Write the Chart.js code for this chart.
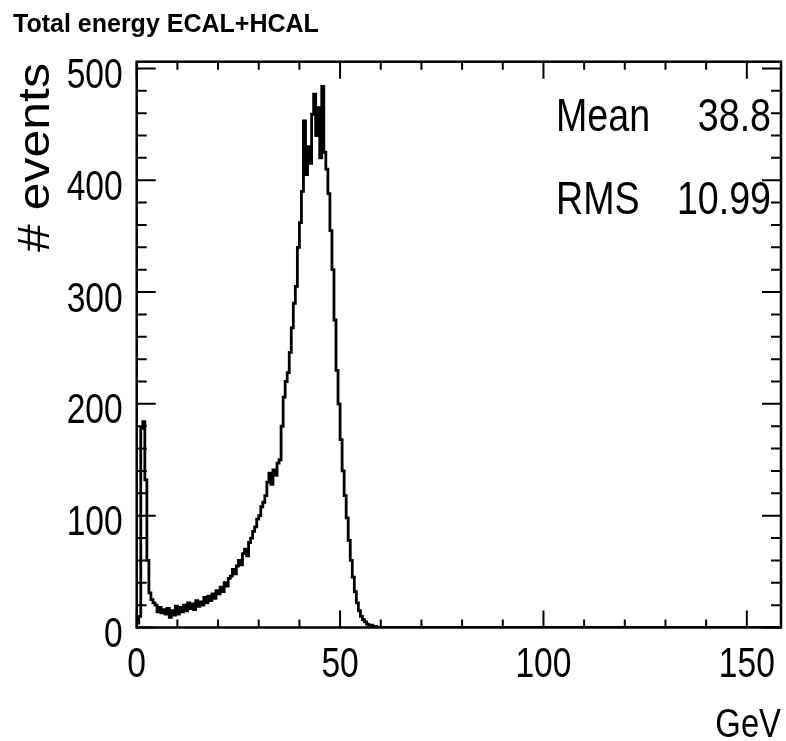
<!DOCTYPE html>
<html>
<head>
<meta charset="utf-8">
<script src="https://cdn.jsdelivr.net/npm/chart.js@4.4.0/dist/chart.umd.min.js"></script>
<style>
  html, body { margin: 0; padding: 0; background: #fff; overflow: hidden; }
  #wrap { width: 786px; height: 741px; position: relative; }
</style>
</head>
<body>
<div id="wrap"><canvas id="chart"></canvas></div>
<script>
// --- data ---
const title = "Total energy ECAL+HCAL";
const xTitle = "GeV";
const yTitle = "# events";
const binWidth = 0.5;   // GeV per bin
const xMax = 158.4;
const yMax = 506;
// counts per 0.5 GeV bin, starting at 0 GeV
const counts = [
  4, 10, 178, 184, 132, 60, 31, 25, 22, 20,
  14, 18, 13, 16, 12, 17, 9, 15, 11, 19,
  12, 18, 14, 20, 15, 22, 17, 21, 16, 24,
  19, 23, 20, 27, 22, 28, 24, 30, 26, 33,
  30, 36, 32, 40, 37, 44, 46, 52, 48, 55,
  60, 56, 66, 70, 64, 76, 80, 86, 90, 97,
  100, 108, 112, 118, 130, 138, 128, 141, 136, 147,
  150, 180, 206, 220, 228, 246, 268, 290, 305, 340,
  362, 390, 453, 405, 430, 415, 459, 477, 440, 465,
  420, 484, 425, 410, 388, 355, 320, 275, 230, 200,
  168, 140, 118, 98, 78, 60, 45, 32, 22, 15,
  10, 7, 5, 3, 2, 2, 1, 1, 0
];
const xTickLabels = [0, 50, 100, 150];
const yTickLabels = [0, 100, 200, 300, 400, 500];
const statNames = ["Mean", "RMS"];
const statValues = ["38.8", "10.99"];

const FONT = "'Liberation Sans', Arial, sans-serif";
const SQ = 0.8; // horizontal squeeze, the original uses a narrow face

const points = counts.map((v, i) => ({ x: i * binWidth, y: v }));
points.push({ x: counts.length * binWidth, y: 0 }, { x: xMax, y: 0 });

// --- frame, inner ticks, labels (ROOT style) ---
const rootFrame = {
  id: "rootFrame",
  afterDatasetsDraw(chart) {
    const { ctx, chartArea: a, scales: { x, y } } = chart;
    ctx.save();
    ctx.strokeStyle = "#000";
    ctx.lineWidth = 2.5;
    ctx.strokeRect(a.left, a.top, a.right - a.left, a.bottom - a.top);
    ctx.lineWidth = 2;
    ctx.beginPath();
    for (let v = 0; v <= xMax; v += 10) {
      const px = x.getPixelForValue(v);
      const len = v % 50 === 0 ? 17 : 8;
      ctx.moveTo(px, a.bottom); ctx.lineTo(px, a.bottom - len);
      ctx.moveTo(px, a.top); ctx.lineTo(px, a.top + len);
    }
    for (let v = 0; v <= yMax; v += 20) {
      const py = y.getPixelForValue(v);
      const len = v % 100 === 0 ? 19 : 10;
      ctx.moveTo(a.left, py); ctx.lineTo(a.left + len, py);
      ctx.moveTo(a.right, py); ctx.lineTo(a.right - len, py);
    }
    ctx.stroke();

    ctx.fillStyle = "#000";
    const text = (s, px, py, align, size) => {
      ctx.save();
      ctx.font = `${size}px ${FONT}`;
      ctx.textAlign = align;
      ctx.textBaseline = "alphabetic";
      ctx.translate(px, py);
      ctx.scale(SQ, 1);
      ctx.fillText(s, 0, 0);
      ctx.restore();
    };
    // tick labels
    x.ticks.forEach(t => text(String(t.value), x.getPixelForValue(t.value), a.bottom + 49.5, "center", 42));
    y.ticks.forEach(t => text(String(t.value), a.left - 14, y.getPixelForValue(t.value) + 19.5, "right", 42));

    statNames.forEach((n, i) => {
      text(n, 556, 131 + i * 83, "left", 47);
      text(statValues[i], 771, 131 + i * 83, "right", 47);
    });
    text(xTitle, 781, 737, "right", 41);

    ctx.save();
    ctx.translate(49, 63);
    ctx.rotate(-Math.PI / 2);
    ctx.scale(1, 0.87);
    ctx.font = `50px ${FONT}`;
    ctx.textAlign = "right";
    ctx.textBaseline = "alphabetic";
    ctx.fillText(yTitle, 0, 0);
    ctx.restore();
    ctx.restore();
  }
};

new Chart(document.getElementById("chart"), {
  type: "line",
  data: {
    datasets: [{
      data: points,
      stepped: "before",
      borderColor: "#000",
      borderWidth: 2.8,
      pointRadius: 0,
      fill: false
    }]
  },
  options: {
    responsive: true,
    maintainAspectRatio: false,
    animation: false,
    layout: { padding: { left: 13, right: 5, top: 0, bottom: 0 } },
    plugins: {
      legend: { display: false },
      tooltip: { enabled: false },
      title: {
        display: true,
        text: title,
        align: "start",
        color: "#000",
        font: { family: FONT, size: 25, weight: "bold" },
        padding: { top: 10, bottom: 21.7 }
      }
    },
    scales: {
      x: {
        type: "linear",
        min: 0,
        max: xMax,
        grid: { display: false, drawTicks: false },
        border: { display: false },
        afterBuildTicks: s => { s.ticks = xTickLabels.map(v => ({ value: v })); },
        afterFit: s => { s.height = 113.5; s.paddingLeft = 0; s.paddingRight = 0; },
        ticks: { display: false }
      },
      y: {
        type: "linear",
        min: 0,
        max: yMax,
        grid: { display: false, drawTicks: false },
        border: { display: false },
        afterBuildTicks: s => { s.ticks = yTickLabels.map(v => ({ value: v })); },
        afterFit: s => { s.width = 123.7; s.paddingTop = 0; s.paddingBottom = 0; },
        ticks: { display: false }
      }
    }
  },
  plugins: [rootFrame]
});
</script>
</body>
</html>
